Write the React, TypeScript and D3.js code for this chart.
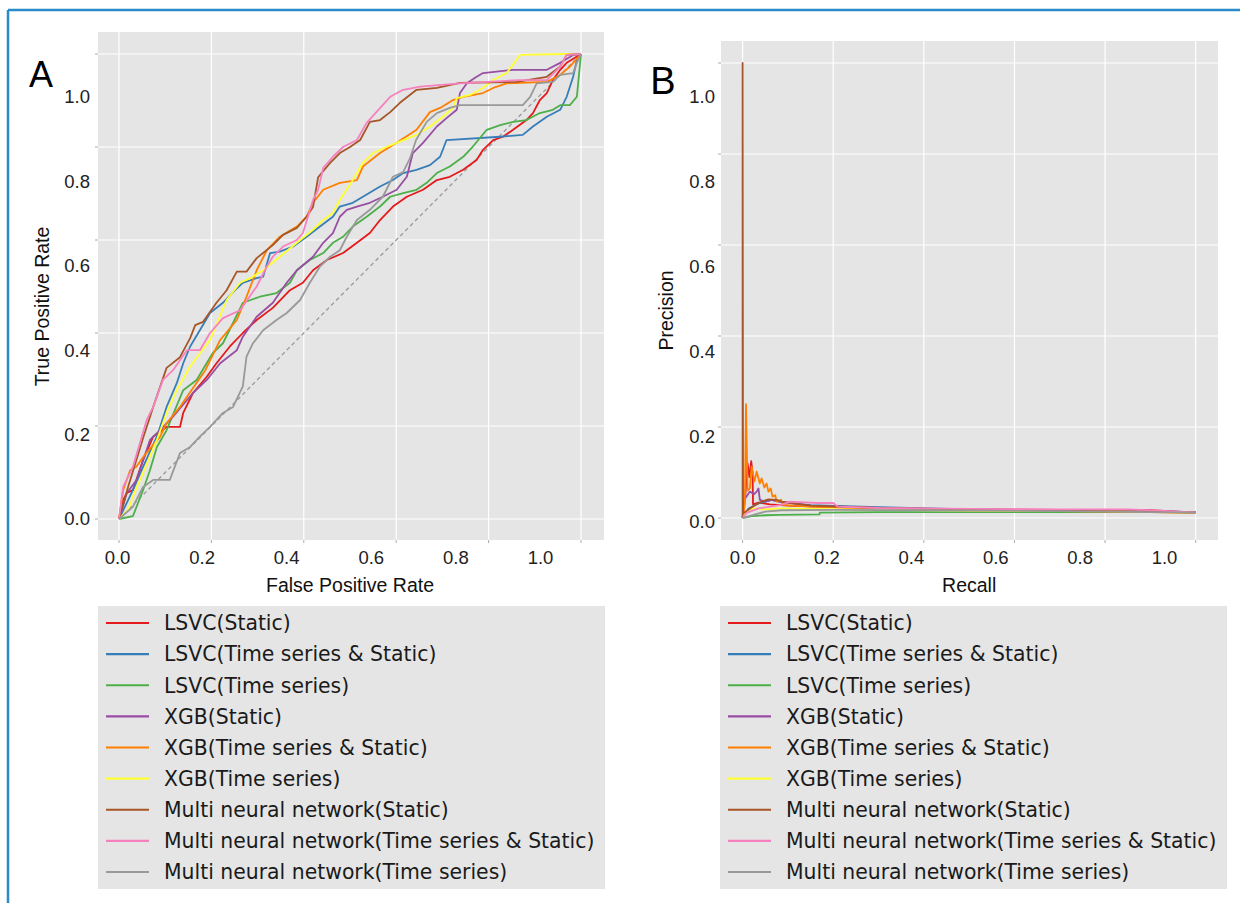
import React from "react";
import * as d3 from "d3";

type Pt = [number, number];

const seriesNames = [
  "LSVC(Static)",
  "LSVC(Time series & Static)",
  "LSVC(Time series)",
  "XGB(Static)",
  "XGB(Time series & Static)",
  "XGB(Time series)",
  "Multi neural network(Static)",
  "Multi neural network(Time series & Static)",
  "Multi neural network(Time series)",
];
const seriesColors = ["#E41A1C", "#377EB8", "#4DAF4A", "#984EA3", "#FF7F00", "#FFFF33", "#A65628", "#F781BF", "#999999"];

// ROC curves: [false positive rate, true positive rate]
const rocLsvcStatic: Pt[] = [[0,0],[0.009,0.041],[0.017,0.056],[0.03,0.062],[0.052,0.127],[0.074,0.177],[0.103,0.198],[0.132,0.198],[0.139,0.228],[0.16,0.271],[0.19,0.306],[0.211,0.335],[0.24,0.371],[0.268,0.4],[0.298,0.428],[0.333,0.454],[0.37,0.492],[0.398,0.508],[0.42,0.535],[0.45,0.557],[0.485,0.572],[0.515,0.594],[0.543,0.615],[0.565,0.643],[0.593,0.672],[0.623,0.693],[0.658,0.708],[0.688,0.729],[0.716,0.736],[0.745,0.751],[0.774,0.772],[0.788,0.794],[0.81,0.815],[0.831,0.822],[0.853,0.837],[0.882,0.858],[0.896,0.873],[0.911,0.901],[0.926,0.916],[0.939,0.944],[0.955,0.966],[0.969,0.981],[1,1]];
const rocLsvcBoth: Pt[] = [[0,0],[0.03,0.062],[0.052,0.112],[0.082,0.177],[0.103,0.241],[0.125,0.292],[0.139,0.335],[0.154,0.371],[0.175,0.406],[0.197,0.443],[0.225,0.465],[0.251,0.492],[0.268,0.508],[0.298,0.518],[0.312,0.521],[0.327,0.572],[0.348,0.575],[0.377,0.586],[0.406,0.607],[0.435,0.629],[0.463,0.65],[0.478,0.672],[0.506,0.68],[0.528,0.693],[0.565,0.715],[0.593,0.729],[0.615,0.744],[0.644,0.751],[0.673,0.761],[0.695,0.779],[0.709,0.815],[0.825,0.822],[0.874,0.826],[0.896,0.844],[0.926,0.865],[0.955,0.88],[0.969,0.908],[0.983,0.951],[0.991,0.987],[1,1]];
const rocLsvcTs: Pt[] = [[0,0],[0.03,0.006],[0.052,0.062],[0.067,0.105],[0.082,0.155],[0.103,0.191],[0.139,0.277],[0.168,0.299],[0.203,0.357],[0.225,0.378],[0.247,0.422],[0.268,0.465],[0.305,0.478],[0.341,0.486],[0.37,0.508],[0.385,0.535],[0.413,0.557],[0.442,0.572],[0.463,0.594],[0.485,0.607],[0.506,0.629],[0.536,0.65],[0.565,0.672],[0.587,0.693],[0.615,0.701],[0.644,0.708],[0.666,0.723],[0.688,0.744],[0.716,0.758],[0.745,0.779],[0.766,0.801],[0.796,0.837],[0.825,0.847],[0.853,0.854],[0.882,0.858],[0.911,0.873],[0.939,0.88],[0.955,0.89],[0.976,0.89],[0.991,0.908],[1,1]];
const rocXgbStatic: Pt[] = [[0,0],[0.017,0.056],[0.038,0.084],[0.067,0.17],[0.089,0.191],[0.117,0.22],[0.16,0.271],[0.19,0.299],[0.219,0.335],[0.255,0.363],[0.268,0.392],[0.298,0.435],[0.333,0.465],[0.363,0.508],[0.385,0.535],[0.42,0.564],[0.442,0.594],[0.463,0.615],[0.478,0.65],[0.493,0.665],[0.515,0.672],[0.543,0.68],[0.571,0.693],[0.601,0.708],[0.623,0.736],[0.636,0.787],[0.658,0.809],[0.688,0.844],[0.709,0.862],[0.731,0.88],[0.738,0.916],[0.753,0.937],[0.774,0.951],[0.788,0.959],[0.853,0.966],[0.926,0.966],[0.955,0.981],[0.983,0.998],[1,1]];
const rocXgbBoth: Pt[] = [[0,0],[0.009,0.062],[0.024,0.105],[0.037,0.112],[0.056,0.138],[0.089,0.177],[0.103,0.206],[0.132,0.241],[0.147,0.263],[0.187,0.32],[0.219,0.385],[0.255,0.428],[0.276,0.478],[0.298,0.535],[0.32,0.578],[0.348,0.607],[0.385,0.629],[0.406,0.65],[0.42,0.68],[0.442,0.708],[0.478,0.723],[0.515,0.729],[0.528,0.758],[0.565,0.787],[0.601,0.809],[0.644,0.837],[0.673,0.875],[0.695,0.884],[0.723,0.901],[0.745,0.908],[0.788,0.916],[0.81,0.927],[0.839,0.937],[0.926,0.94],[0.955,0.955],[0.976,0.973],[1,1]];
const rocXgbTs: Pt[] = [[0,0],[0.02,0.02],[0.03,0.048],[0.052,0.099],[0.082,0.17],[0.103,0.228],[0.125,0.277],[0.154,0.328],[0.197,0.385],[0.233,0.471],[0.262,0.508],[0.284,0.518],[0.312,0.535],[0.348,0.564],[0.385,0.594],[0.42,0.622],[0.442,0.643],[0.463,0.658],[0.478,0.686],[0.506,0.729],[0.528,0.766],[0.55,0.787],[0.579,0.8],[0.601,0.809],[0.644,0.826],[0.673,0.844],[0.701,0.865],[0.723,0.884],[0.731,0.905],[0.76,0.912],[0.788,0.927],[0.81,0.944],[0.839,0.959],[0.857,0.983],[0.868,0.998],[0.961,1],[1,1]];
const rocMnnStatic: Pt[] = [[0,0],[0.02,0.07],[0.053,0.177],[0.074,0.241],[0.103,0.325],[0.132,0.348],[0.154,0.389],[0.165,0.417],[0.182,0.424],[0.211,0.465],[0.233,0.492],[0.255,0.532],[0.276,0.532],[0.298,0.561],[0.333,0.589],[0.355,0.611],[0.385,0.626],[0.406,0.65],[0.42,0.671],[0.431,0.735],[0.457,0.766],[0.478,0.787],[0.5,0.8],[0.522,0.815],[0.543,0.854],[0.565,0.858],[0.587,0.875],[0.608,0.895],[0.644,0.923],[0.688,0.927],[0.738,0.938],[0.861,0.94],[0.926,0.951],[0.955,0.973],[0.969,0.998],[1,1]];
const rocMnnBoth: Pt[] = [[0,0],[0.009,0.069],[0.03,0.112],[0.06,0.213],[0.074,0.241],[0.095,0.299],[0.117,0.32],[0.147,0.363],[0.175,0.363],[0.197,0.4],[0.225,0.432],[0.262,0.449],[0.298,0.5],[0.32,0.543],[0.333,0.564],[0.355,0.586],[0.385,0.6],[0.398,0.615],[0.409,0.65],[0.42,0.686],[0.431,0.708],[0.442,0.755],[0.463,0.779],[0.485,0.8],[0.515,0.815],[0.536,0.852],[0.558,0.876],[0.587,0.908],[0.615,0.923],[0.652,0.93],[0.738,0.937],[0.868,0.944],[0.926,0.944],[0.955,0.973],[0.969,0.998],[1,1]];
const rocMnnTs: Pt[] = [[0,0],[0.03,0.026],[0.052,0.069],[0.074,0.084],[0.11,0.084],[0.132,0.142],[0.154,0.155],[0.175,0.177],[0.197,0.198],[0.225,0.228],[0.247,0.241],[0.268,0.285],[0.276,0.349],[0.29,0.378],[0.312,0.406],[0.341,0.428],[0.363,0.443],[0.392,0.471],[0.413,0.508],[0.435,0.543],[0.457,0.564],[0.478,0.578],[0.493,0.607],[0.515,0.643],[0.543,0.665],[0.571,0.693],[0.593,0.736],[0.615,0.746],[0.63,0.776],[0.643,0.815],[0.666,0.854],[0.688,0.873],[0.716,0.884],[0.738,0.89],[0.874,0.89],[0.89,0.908],[0.904,0.937],[0.939,0.94],[0.955,0.955],[0.983,0.959],[0.991,0.981],[1,1]];

// Precision-recall curves: [recall, precision]
const prLsvcStatic: Pt[] = [[0,0],[0.006,0.05],[0.011,0.12],[0.015,0.09],[0.019,0.125],[0.022,0.1],[0.023,0.03],[0.035,0.034],[0.06,0.03],[0.1,0.027],[0.2,0.024],[0.3,0.021],[0.5,0.019],[0.7,0.018],[0.9,0.017],[1,0.012]];
const prLsvcBoth: Pt[] = [[0,0],[0.013,0.021],[0.035,0.032],[0.064,0.04],[0.086,0.035],[0.15,0.028],[0.3,0.024],[0.5,0.019],[0.7,0.017],[0.9,0.015],[1,0.013]];
const prLsvcTs: Pt[] = [[0,0],[0.02,0.004],[0.05,0.006],[0.08,0.007],[0.17,0.008],[0.17,0.012],[0.3,0.013],[0.6,0.013],[1,0.013]];
const prXgbStatic: Pt[] = [[0,0],[0.004,0.04],[0.016,0.058],[0.025,0.052],[0.031,0.058],[0.035,0.065],[0.038,0.04],[0.05,0.036],[0.064,0.04],[0.08,0.036],[0.15,0.027],[0.3,0.022],[0.5,0.018],[0.8,0.016],[1,0.013]];
const prXgbBoth: Pt[] = [[0,0],[0.005,0.03],[0.0075,0.25],[0.011,0.06],[0.016,0.065],[0.02,0.113],[0.026,0.08],[0.031,0.102],[0.038,0.076],[0.042,0.087],[0.048,0.067],[0.053,0.076],[0.057,0.058],[0.062,0.065],[0.066,0.047],[0.072,0.05],[0.075,0.036],[0.085,0.04],[0.088,0.029],[0.15,0.025],[0.3,0.02],[0.5,0.017],[0.7,0.015],[0.9,0.013],[1,0.011]];
const prXgbTs: Pt[] = [[0,0],[0.005,0.01],[0.02,0.021],[0.05,0.019],[0.086,0.021],[0.15,0.02],[0.3,0.018],[0.5,0.016],[0.8,0.015],[1,0.012]];
const prMnnStatic: Pt[] = [[0,0],[0,1],[0.001,0.01],[0.027,0.028],[0.042,0.036],[0.057,0.041],[0.075,0.04],[0.086,0.036],[0.15,0.027],[0.3,0.022],[0.5,0.019],[0.7,0.016],[0.9,0.014],[1,0.012]];
const prMnnBoth: Pt[] = [[0,0],[0.01,0.012],[0.035,0.021],[0.086,0.029],[0.104,0.036],[0.164,0.033],[0.2,0.033],[0.21,0.025],[0.3,0.022],[0.5,0.02],[0.7,0.019],[0.85,0.019],[0.92,0.016],[1,0.012]];
const prMnnTs: Pt[] = [[0,0],[0.024,0.007],[0.05,0.014],[0.086,0.017],[0.2,0.018],[0.4,0.017],[0.7,0.015],[1,0.012]];

const rocCurves = [rocLsvcStatic, rocLsvcBoth, rocLsvcTs, rocXgbStatic, rocXgbBoth, rocXgbTs, rocMnnStatic, rocMnnBoth, rocMnnTs];
const prCurves = [prLsvcStatic, prLsvcBoth, prLsvcTs, prXgbStatic, prXgbBoth, prXgbTs, prMnnStatic, prMnnBoth, prMnnTs];

const tickValues = [0, 0.2, 0.4, 0.6, 0.8, 1];
const tickLabels = ["0.0", "0.2", "0.4", "0.6", "0.8", "1.0"];

const axisFont = "'Liberation Sans', Arial, sans-serif";
const legendFont = "'DejaVu Sans', Verdana, sans-serif";

type PanelProps = {
  box: { x0: number; x1: number; y0: number; y1: number };
  xRange: [number, number];
  yRange: [number, number];
  xLabRange: [number, number];
  yLabRange: [number, number];
  yLabRight: number;
  curves: Pt[][];
  diagonal?: boolean;
  xTitle: string;
  yTitle: string;
  yTitleX: number;
  tag: string;
  tagX: number;
  tagY: number;
  tagSize: number;
};

function Panel(p: PanelProps) {
  const x = d3.scaleLinear().domain([0, 1]).range(p.xRange);
  const y = d3.scaleLinear().domain([0, 1]).range(p.yRange);
  // tick labels sit on their own, slightly tighter spacing in the original figure
  const xl = d3.scaleLinear().domain([0, 1]).range(p.xLabRange);
  const yl = d3.scaleLinear().domain([0, 1]).range(p.yLabRange);
  const line = d3.line<Pt>().x(d => x(d[0])).y(d => y(d[1]));
  const { x0, x1, y0, y1 } = p.box;
  const yMid = (y(0) + y(1)) / 2;

  return (
    <g>
      <rect x={x0} y={y0} width={x1 - x0} height={y1 - y0} fill="#E5E5E5" />
      {tickValues.map(v => (
        <g key={"g" + v}>
          <line x1={x0} x2={x1} y1={y(v)} y2={y(v)} stroke="#fff" strokeWidth={1.2} />
          <line x1={x(v)} x2={x(v)} y1={y0} y2={y1} stroke="#fff" strokeWidth={1.2} />
          <line x1={x0 - 3} x2={x0} y1={y(v)} y2={y(v)} stroke="#aaa" strokeWidth={1} />
          <line x1={x(v)} x2={x(v)} y1={y1} y2={y1 + 3} stroke="#aaa" strokeWidth={1} />
        </g>
      ))}
      {p.diagonal && (
        <path d={line([[0, 0], [1, 1]]) || ""} stroke="#999" strokeWidth={1.3} strokeDasharray="4,3" fill="none" />
      )}
      {p.curves.map((c, i) => (
        <path key={i} d={line(c) || ""} stroke={seriesColors[i]} strokeWidth={1.8} fill="none" strokeLinejoin="round" />
      ))}
      {tickValues.map((v, i) => (
        <text key={"yl" + v} x={p.yLabRight} y={yl(v)} dy="0.35em" textAnchor="end" fontSize={18.5} fontFamily={axisFont} fill="#222">
          {tickLabels[i]}
        </text>
      ))}
      {tickValues.map((v, i) => (
        <text key={"xl" + v} x={xl(v)} y={558} dy="0.35em" textAnchor="middle" fontSize={18.5} fontFamily={axisFont} fill="#222">
          {tickLabels[i]}
        </text>
      ))}
      <text x={(x(0) + x(1)) / 2} y={585} dy="0.35em" textAnchor="middle" fontSize={19.5} fontFamily={axisFont} fill="#111">
        {p.xTitle}
      </text>
      <text transform={`translate(${p.yTitleX},${yMid + 20}) rotate(-90)`} dy="0.35em" textAnchor="middle" fontSize={19.5} fontFamily={axisFont} fill="#111">
        {p.yTitle}
      </text>
      <text x={p.tagX} y={p.tagY} textAnchor="middle" fontSize={p.tagSize} fontFamily={axisFont} fill="#000">
        {p.tag}
      </text>
    </g>
  );
}

function Legend({ x0 }: { x0: number }) {
  const rowY = d3.scaleLinear().domain([0, 8]).range([623, 872]);
  return (
    <g>
      <rect x={x0} y={606} width={507} height={283} fill="#E5E5E5" />
      {seriesNames.map((name, i) => (
        <g key={name}>
          <line x1={x0 + 8} x2={x0 + 51} y1={rowY(i)} y2={rowY(i)} stroke={seriesColors[i]} strokeWidth={2.2} />
          <text x={x0 + 66} y={rowY(i)} dy="0.36em" fontSize={20.4} fontFamily={legendFont} fill="#1a1a1a">
            {name}
          </text>
        </g>
      ))}
    </g>
  );
}

export default function App() {
  return (
    <svg width={1240} height={903} style={{ position: "absolute", left: 0, top: 0, background: "#fff" }}>
      <rect x={0} y={0} width={1240} height={903} fill="#fff" />
      <line x1={8} x2={1240} y1={10} y2={10} stroke="#2A8BC8" strokeWidth={2.5} />
      <line x1={8} x2={8} y1={10} y2={903} stroke="#2A8BC8" strokeWidth={2.5} />
      <Panel
        box={{ x0: 98, x1: 604, y0: 32, y1: 540 }}
        xRange={[119, 581]}
        yRange={[519, 54]}
        xLabRange={[117.5, 540.5]}
        yLabRange={[519, 97]}
        yLabRight={90}
        curves={rocCurves}
        diagonal
        xTitle="False Positive Rate"
        yTitle="True Positive Rate"
        yTitleX={42}
        tag="A"
        tagX={41}
        tagY={87}
        tagSize={36}
      />
      <Panel
        box={{ x0: 721, x1: 1218, y0: 41, y1: 540 }}
        xRange={[742.6, 1195.7]}
        yRange={[518, 63]}
        xLabRange={[742.6, 1164.5]}
        yLabRange={[522, 97]}
        yLabRight={715}
        curves={prCurves}
        xTitle="Recall"
        yTitle="Precision"
        yTitleX={666}
        tag="B"
        tagX={663}
        tagY={94}
        tagSize={38}
      />
      <Legend x0={98} />
      <Legend x0={720} />
    </svg>
  );
}
